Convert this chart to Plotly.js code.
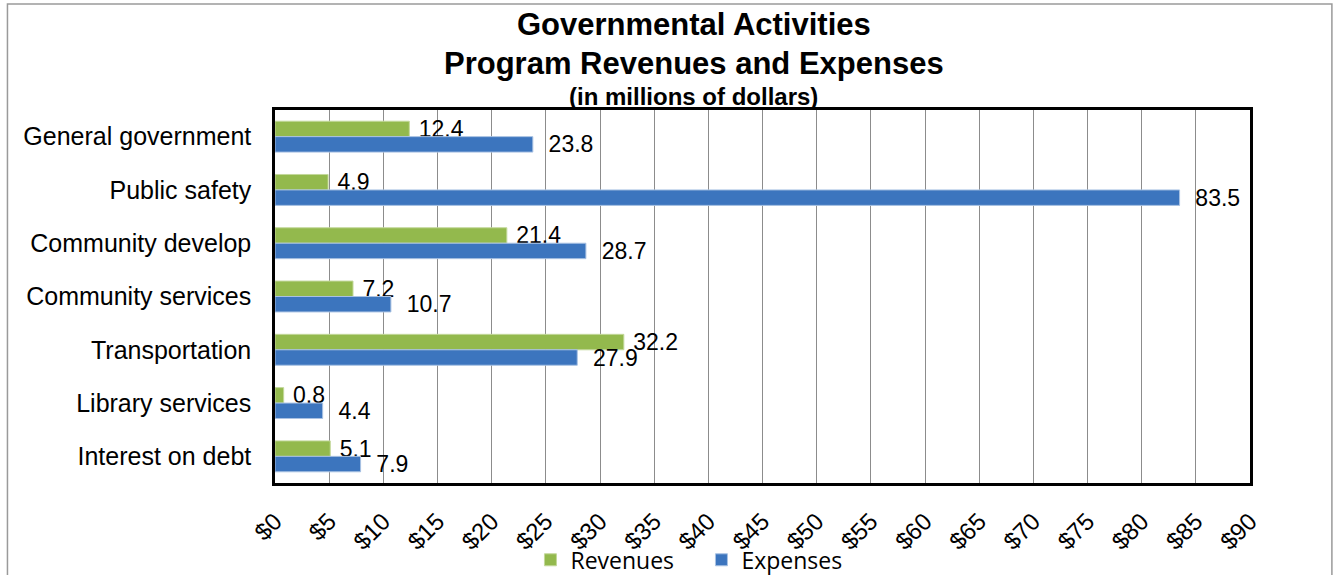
<!DOCTYPE html>
<html>
<head>
<meta charset="utf-8">
<script src="https://cdn.plot.ly/plotly-3.0.1.min.js"></script>
<style>
  html, body { margin: 0; padding: 0; background: #ffffff; }
  #chart { width: 1338px; height: 575px; }
</style>
</head>
<body>
<div id="chart"></div>
<script>
// ---- data ----
const categories = [
  "General government",
  "Public safety",
  "Community develop",
  "Community services",
  "Transportation",
  "Library services",
  "Interest on debt"
];
const revenues = [12.4, 4.9, 21.4, 7.2, 32.2, 0.8, 5.1];
const expenses = [23.8, 83.5, 28.7, 10.7, 27.9, 4.4, 7.9];
const tickValues = [0, 5, 10, 15, 20, 25, 30, 35, 40, 45, 50, 55, 60, 65, 70, 75, 80, 85, 90];
const tickLabels = ["$0", "$5", "$10", "$15", "$20", "$25", "$30", "$35", "$40", "$45",
                    "$50", "$55", "$60", "$65", "$70", "$75", "$80", "$85", "$90"];
const titleLine1 = "Governmental Activities";
const titleLine2 = "Program Revenues and Expenses";
const titleLine3 = "(in millions of dollars)";

const arial = "Arial, 'Liberation Sans', sans-serif";

const traces = [
  {
    type: "bar",
    orientation: "h",
    name: "Revenues",
    y: categories,
    x: revenues,
    marker: { color: "#93B94D", line: { color: "#C3D89B", width: 1 } },
    text: revenues.map(v => v.toFixed(1)),
    texttemplate: "\u00a0%{text}",
    textposition: "outside",
    constraintext: "none",
    textfont: { family: arial, size: 23, color: "#000000" },
    cliponaxis: false,
    hoverinfo: "x+y+name"
  },
  {
    type: "bar",
    orientation: "h",
    name: "Expenses",
    y: categories,
    x: expenses,
    marker: { color: "#3C75BE", line: { color: "#A9C2E3", width: 1 } },
    text: expenses.map(v => v.toFixed(1)),
    texttemplate: "\u00a0\u00a0%{text}",
    textposition: "outside",
    constraintext: "none",
    textfont: { family: arial, size: 23, color: "#000000" },
    cliponaxis: false,
    hoverinfo: "x+y+name"
  }
];

const layout = {
  width: 1338,
  height: 575,
  margin: { l: 275, r: 88, t: 110, b: 92, pad: 0, autoexpand: false },
  paper_bgcolor: "#ffffff",
  plot_bgcolor: "#ffffff",
  barmode: "group",
  bargap: 0.42,
  bargroupgap: 0,
  showlegend: true,
  font: { family: arial, color: "#000000" },
  xaxis: {
    range: [0, 90],
    tickmode: "array",
    tickvals: tickValues,
    ticktext: tickLabels,
    tickangle: -45,
    tickfont: { family: arial, size: 24, color: "#000000" },
    ticklabelstandoff: 12,
    automargin: false,
    showgrid: true,
    gridcolor: "#8C8C8C",
    gridwidth: 1,
    showline: true,
    linecolor: "#000000",
    linewidth: 2.5,
    mirror: true,
    zeroline: false,
    ticks: "",
    fixedrange: true
  },
  yaxis: {
    type: "category",
    autorange: "reversed",
    tickfont: { family: arial, size: 25, color: "#000000" },
    ticklabelstandoff: 16,
    automargin: false,
    showgrid: false,
    showline: true,
    linecolor: "#000000",
    linewidth: 2.5,
    mirror: true,
    zeroline: false,
    ticks: "",
    fixedrange: true
  },
  legend: {
    orientation: "h",
    x: 0.262,
    xanchor: "left",
    y: -0.206,
    yanchor: "middle",
    entrywidth: 126,
    entrywidthmode: "pixels",
    font: { family: "'Open Sans', Lato, sans-serif", size: 23, color: "#000000" },
    bgcolor: "rgba(0,0,0,0)",
    itemclick: false,
    itemdoubleclick: false
  },
  annotations: [
    {
      text: "<b>" + titleLine1 + "</b>",
      xref: "paper", yref: "paper", x: 0.4297, y: 1.2300,
      xanchor: "center", yanchor: "middle", showarrow: false,
      font: { family: arial, size: 31, color: "#000000" }
    },
    {
      text: "<b>" + titleLine2 + "</b>",
      xref: "paper", yref: "paper", x: 0.4297, y: 1.1235,
      xanchor: "center", yanchor: "middle", showarrow: false,
      font: { family: arial, size: 31, color: "#000000" }
    },
    {
      text: "<b>" + titleLine3 + "</b>",
      xref: "paper", yref: "paper", x: 0.4297, y: 1.0349,
      xanchor: "center", yanchor: "middle", showarrow: false,
      font: { family: arial, size: 24, color: "#000000" }
    }
  ],
  shapes: [
    {
      type: "rect", xref: "paper", yref: "paper",
      x0: -0.2744, x1: 1.084, y0: -0.30, y1: 1.2842,
      line: { color: "#9A9A9A", width: 1.5 },
      fillcolor: "rgba(0,0,0,0)",
      layer: "below"
    }
  ]
};

Plotly.newPlot("chart", traces, layout, { displayModeBar: false, staticPlot: false, responsive: false });
</script>
</body>
</html>
